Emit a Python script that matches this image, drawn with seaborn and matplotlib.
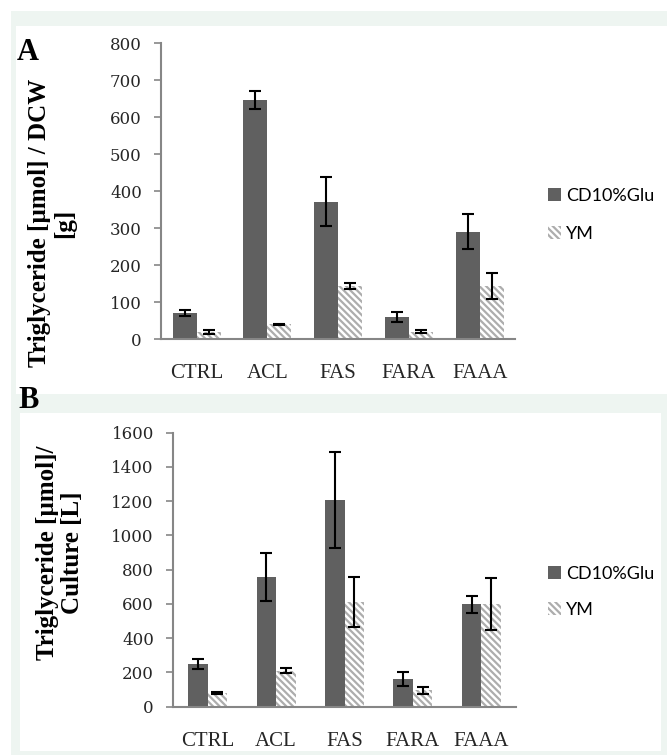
import numpy as np
import pandas as pd
import matplotlib.pyplot as plt
from matplotlib.patches import Rectangle
import seaborn as sns

# Data
strains = ["CTRL", "ACL", "FAS", "FARA", "FAAA"]
media = ["CD10%Glu", "YM"]

# Panel A: triglyceride per dry cell weight
dcw_glu = [70, 646, 372, 61, 290]
dcw_glu_err = [8, 24, 67, 13, 47]
dcw_ym = [19, 40, 144, 20, 144]
dcw_ym_err = [5, 2, 9, 4, 36]

# Panel B: triglyceride per culture volume
cul_glu = [249, 759, 1207, 160, 598]
cul_glu_err = [27, 141, 279, 40, 50]
cul_ym = [82, 210, 613, 97, 598]
cul_ym_err = [6, 15, 145, 20, 152]

W, H = 667, 755
GREEN = "#eef5f1"
DARK = "#606060"
HATCH = "#adadad"
SPINE = "#868686"

plt.rcParams["hatch.linewidth"] = 1.6

fig = plt.figure(figsize=(W / 100, H / 100), dpi=100)


def px_rect(x0, y0, x1, y1, color):
    fig.patches.append(Rectangle((x0 / W, 1 - y1 / H), (x1 - x0) / W, (y1 - y0) / H,
                                 transform=fig.transFigure, facecolor=color,
                                 edgecolor="none", zorder=-10))


# background framing
px_rect(11, 11, 667, 755, GREEN)
px_rect(16, 26, 667, 394, "white")
px_rect(20, 413, 661, 751, "white")


def panel(rect, glu, glu_err, ym, ym_err, width, ymax, step, ylabel, lab_xy,
          letter, letter_xy, leg_xy, leg_space):
    ax = fig.add_axes(rect)
    df = pd.DataFrame({
        "strain": strains * 2,
        "medium": [media[0]] * 5 + [media[1]] * 5,
        "value": glu + ym,
    })
    sns.barplot(data=df, x="strain", y="value", hue="medium", order=strains,
                hue_order=media, palette={media[0]: DARK, media[1]: "white"},
                width=width, errorbar=None, legend=False, ax=ax, zorder=2)

    for p in ax.containers[0]:
        p.set_edgecolor("none")
        p.set_linewidth(0)
    for p in ax.containers[1]:
        p.set_facecolor("white")
        p.set_edgecolor(HATCH)
        p.set_linewidth(0)
        p.set_hatch("\\\\\\\\\\")

    for cont, errs in zip(ax.containers, [glu_err, ym_err]):
        xs = [b.get_x() + b.get_width() / 2 for b in cont]
        ys = [b.get_height() for b in cont]
        ax.errorbar(xs, ys, yerr=errs, fmt="none", ecolor="black",
                    elinewidth=1.5, capsize=4, capthick=1.5, zorder=3)

    ax.set_ylim(0, ymax)
    ax.set_yticks(np.arange(0, ymax + 1, step))
    ax.set_xlim(-0.5, 4.5)
    ax.set_xlabel("")
    ax.set_ylabel("")
    ax.spines[["top", "right"]].set_visible(False)
    ax.spines["left"].set_color(SPINE)
    ax.spines["bottom"].set_color(SPINE)
    ax.spines["left"].set_linewidth(1.5)
    ax.spines["bottom"].set_linewidth(1.5)
    ax.tick_params(axis="y", direction="out", length=5, width=1.2, color=SPINE,
                   pad=9, labelsize=12, labelcolor="#262626")
    ax.tick_params(axis="x", length=0, pad=18, labelsize=15, labelcolor="#262626")
    for t in ax.get_yticklabels():
        t.set_fontfamily("DejaVu Serif")
    for t in ax.get_xticklabels():
        t.set_fontfamily("Liberation Serif")
    ax.patch.set_alpha(0)

    fig.text(lab_xy[0] / W, 1 - lab_xy[1] / H, ylabel, rotation=90, ha="center",
             va="center", multialignment="center", fontsize=18,
             fontweight="bold", family="Liberation Serif", linespacing=1.15)
    fig.text(letter_xy[0] / W, 1 - letter_xy[1] / H, letter, ha="center",
             va="center", fontsize=22, fontweight="bold",
             family="Liberation Serif")

    handles = [ax.containers[0][0], ax.containers[1][0]]
    ax.legend(handles, media, loc="upper left", frameon=False,
              bbox_to_anchor=(leg_xy[0] / W, 1 - leg_xy[1] / H),
              bbox_transform=fig.transFigure, borderpad=0, borderaxespad=0,
              handlelength=0.7, handleheight=0.7, handletextpad=0.3,
              labelspacing=leg_space, prop={"family": "Lato", "size": 13})
    return ax


panel([161.3 / W, 1 - 339.3 / H, 353.7 / W, 296.3 / H],
      dcw_glu, dcw_glu_err, dcw_ym, dcw_ym_err, 0.68, 800, 100,
      "Triglyceride [µmol] / DCW\n[g]", (52, 223), "A", (28, 53), (548, 188), 1.2)

panel([173.3 / W, 1 - 706.7 / H, 342.4 / W, 274 / H],
      cul_glu, cul_glu_err, cul_ym, cul_ym_err, 0.57, 1600, 200,
      "Triglyceride [µmol]/\nCulture [L]", (60, 553), "B", (29, 401), (548, 566), 1.1)

fig.savefig("out.png", dpi=100, facecolor="white")
